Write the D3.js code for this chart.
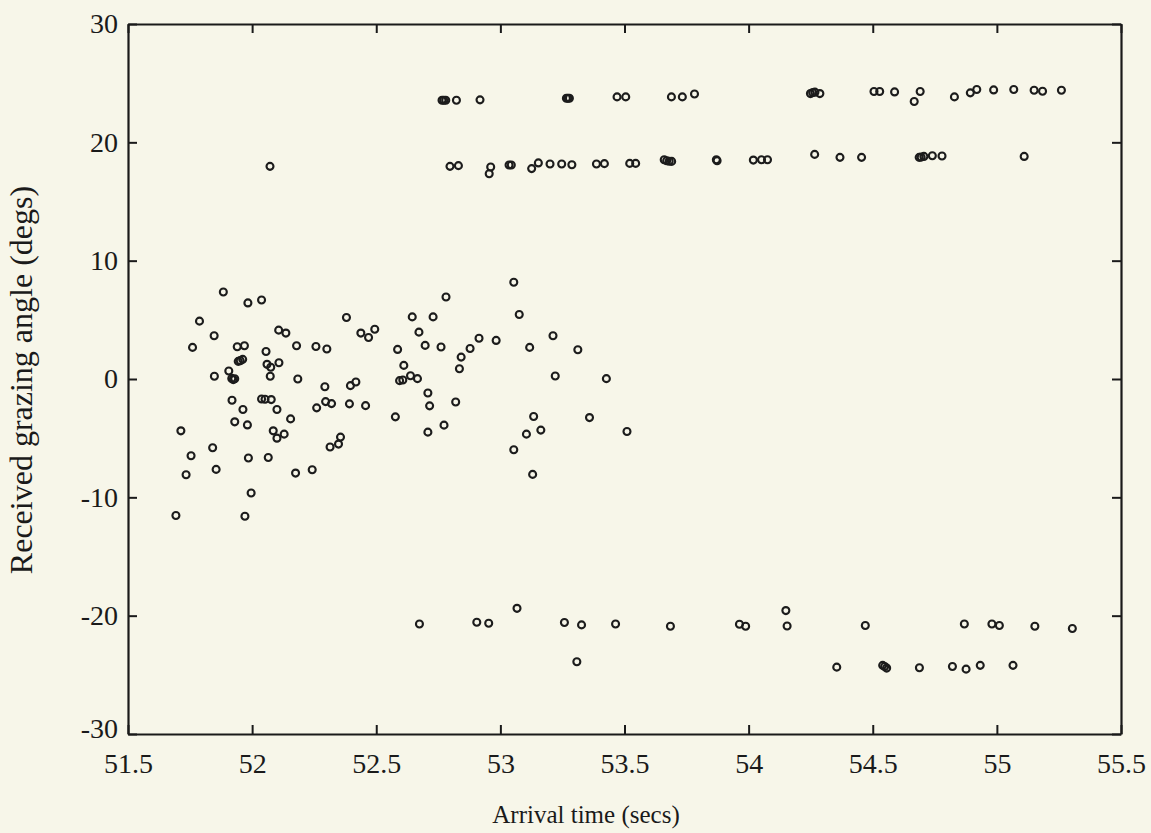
<!DOCTYPE html>
<html>
<head>
<meta charset="utf-8">
<script src="https://cdn.jsdelivr.net/npm/d3@7"></script>
<style>
  body { margin: 0; background: #f7f6e9; }
  svg { display: block; }
  .tick text { font-family: "Liberation Serif", "Times New Roman", serif; fill: #1a1a1a; }
  .label { font-family: "Liberation Serif", "Times New Roman", serif; fill: #1a1a1a; }
</style>
</head>
<body>
<script>
// arrival time (secs) / received grazing angle (degs)
var arrivalTime = [
  51.884, 51.983, 52.038, 51.788, 51.847, 51.760, 51.940, 51.969, 52.107, 52.136,
  52.056, 52.179, 52.257, 52.301, 52.380, 52.438, 52.469, 52.494, 52.586, 51.944,
  51.952, 51.962, 51.906, 51.918, 51.924, 51.930, 51.848, 52.060, 52.075, 52.108,
  52.073, 52.184, 52.293, 52.396, 52.418, 52.594, 51.919, 51.963, 52.038, 52.052,
  52.077, 52.100, 52.260, 52.296, 52.320, 52.392, 52.457, 52.577, 52.155, 51.930,
  51.981, 51.713, 52.085, 52.100, 52.129, 52.356, 52.348, 52.314, 51.841, 51.754,
  51.985, 52.065, 51.734, 51.855, 52.175, 52.242, 51.996, 51.693, 51.971, 52.072,
  53.054, 52.781, 52.645, 52.729, 53.076, 52.672, 53.212, 52.914, 52.983, 52.697,
  52.761, 52.878, 52.842, 52.835, 53.118, 53.312, 52.611, 52.607, 52.638, 52.666,
  53.221, 53.427, 52.708, 52.715, 52.820, 53.134, 53.359, 52.708, 52.773, 53.105,
  53.163, 53.510, 53.054, 53.130,
  52.674, 52.905, 52.953, 53.067, 53.258, 53.327, 53.308, 53.464, 53.685, 53.963,
  53.988, 54.150, 54.155, 54.470, 54.869, 54.980, 55.010, 55.153, 55.304, 54.355,
  54.540, 54.548, 54.556, 54.688, 54.821, 54.876, 54.933, 55.065,
  52.765, 52.772, 52.780, 52.823, 52.918, 53.266, 53.272, 53.278, 53.470, 53.505,
  53.689, 53.733, 53.782, 52.797, 52.831, 52.961, 52.955, 53.035, 53.044, 53.126,
  53.153, 53.200, 53.247, 53.288, 53.387, 53.419, 53.521, 53.545, 53.660, 53.670,
  53.680, 53.690, 53.870, 53.873, 54.019, 54.052, 54.076,
  54.249, 54.258, 54.267, 54.287, 54.505, 54.528, 54.588, 54.667, 54.691, 54.829,
  54.893, 54.919, 54.987, 55.068, 55.150, 55.184, 55.260, 54.266, 54.368, 54.455,
  54.687, 54.695, 54.706, 54.740, 54.779, 55.110
];
var grazingAngle = [
  7.35, 6.43, 6.68, 4.89, 3.65, 2.67, 2.72, 2.81, 4.13, 3.88,
  2.33, 2.81, 2.75, 2.53, 5.20, 3.88, 3.51, 4.21, 2.50, 1.49,
  1.55, 1.66, 0.67, 0.05, -0.05, 0.02, 0.23, 1.24, 0.99, 1.37,
  0.23, 0.00, -0.65, -0.56, -0.25, -0.14, -1.80, -2.58, -1.69, -1.71,
  -1.74, -2.58, -2.44, -1.91, -2.08, -2.10, -2.25, -3.20, -3.37, -3.62,
  -3.88, -4.38, -4.38, -5.00, -4.66, -4.91, -5.50, -5.75, -5.81, -6.49,
  -6.68, -6.63, -8.09, -7.64, -7.95, -7.67, -9.63, -11.54, -11.60, 17.97,
  8.17, 6.93, 5.25, 5.25, 5.45, 3.96, 3.65, 3.45, 3.26, 2.84,
  2.70, 2.58, 1.85, 0.87, 2.67, 2.47, 1.15, -0.08, 0.28, 0.03,
  0.25, 0.03, -1.18, -2.27, -1.94, -3.17, -3.26, -4.49, -3.90, -4.66,
  -4.32, -4.44, -5.98, -8.06,
  -20.70, -20.56, -20.64, -19.38, -20.58, -20.78, -23.90, -20.70, -20.90, -20.72,
  -20.90, -19.57, -20.87, -20.83, -20.70, -20.70, -20.83, -20.90, -21.09, -24.35,
  -24.20, -24.30, -24.43, -24.40, -24.29, -24.52, -24.20, -24.20,
  23.56, 23.56, 23.56, 23.56, 23.59, 23.73, 23.73, 23.73, 23.84, 23.84,
  23.84, 23.84, 24.09, 17.97, 18.03, 17.92, 17.35, 18.09, 18.09, 17.78,
  18.26, 18.17, 18.17, 18.11, 18.17, 18.20, 18.22, 18.22, 18.53, 18.45,
  18.40, 18.39, 18.53, 18.45, 18.50, 18.53, 18.53,
  24.12, 24.20, 24.24, 24.12, 24.29, 24.29, 24.26, 23.45, 24.29, 23.84,
  24.18, 24.46, 24.43, 24.46, 24.40, 24.32, 24.40, 18.98, 18.73, 18.73,
  18.73, 18.75, 18.81, 18.87, 18.85, 18.81
];

var xTicks = [51.5, 52, 52.5, 53, 53.5, 54, 54.5, 55, 55.5];
var yTicks = [-30, -20, -10, 0, 10, 20, 30];

var width = 1151, height = 833;
var plotLeft = 128, plotRight = 1121, plotTop = 24, plotBottom = 734;

var svg = d3.select("body").append("svg")
    .attr("width", width)
    .attr("height", height);

var x = d3.scaleLinear().domain([51.5, 55.5]).range([plotLeft, plotRight]);
var y = d3.scaleLinear().domain([-30, 30]).range([plotBottom, plotTop]);

// plain hyphen for negatives, like the original
var plain = function (d) { return String(d); };

// axes, ticks pointing inward on all four sides
svg.append("g")
    .attr("transform", "translate(0," + plotBottom + ")")
    .call(d3.axisBottom(x).tickValues(xTicks).tickSize(-9).tickSizeOuter(0).tickPadding(19)
        .tickFormat(plain));
svg.append("g")
    .attr("transform", "translate(0," + plotTop + ")")
    .call(d3.axisTop(x).tickValues(xTicks).tickSize(-9).tickSizeOuter(0).tickFormat(""));
var gy = svg.append("g")
    .attr("transform", "translate(" + plotLeft + ",0)")
    .call(d3.axisLeft(y).tickValues(yTicks).tickSize(-9).tickSizeOuter(0).tickPadding(10)
        .tickFormat(plain));
svg.append("g")
    .attr("transform", "translate(" + plotRight + ",0)")
    .call(d3.axisRight(y).tickValues(yTicks).tickSize(-9).tickSizeOuter(0).tickFormat(""));

svg.selectAll(".domain").attr("stroke", "#1a1a1a").attr("stroke-width", 2.2);
svg.selectAll(".tick line").attr("stroke", "#1a1a1a").attr("stroke-width", 2);
svg.selectAll(".tick text").style("font-size", "28px");

// the -30 label sits a little higher in the original
gy.selectAll(".tick text").filter(function (d) { return d == -30; }).attr("dy", "0.12em");

var points = arrivalTime.map(function (t, i) { return [t, grazingAngle[i]]; });

svg.append("g")
    .selectAll("circle")
    .data(points)
    .enter()
    .append("circle")
    .attr("cx", function (d) { return x(d[0]); })
    .attr("cy", function (d) { return y(d[1]); })
    .attr("r", 3.5)
    .attr("fill", "none")
    .attr("stroke", "#1c1c1c")
    .attr("stroke-width", 2.1);

svg.append("text")
    .attr("class", "label")
    .attr("x", 586)
    .attr("y", 823)
    .attr("text-anchor", "middle")
    .style("font-size", "25px")
    .text("Arrival time (secs)");

svg.append("text")
    .attr("class", "label")
    .attr("transform", "translate(32,380) rotate(-90)")
    .attr("text-anchor", "middle")
    .style("font-size", "32px")
    .text("Received grazing angle (degs)");
</script>
</body>
</html>
